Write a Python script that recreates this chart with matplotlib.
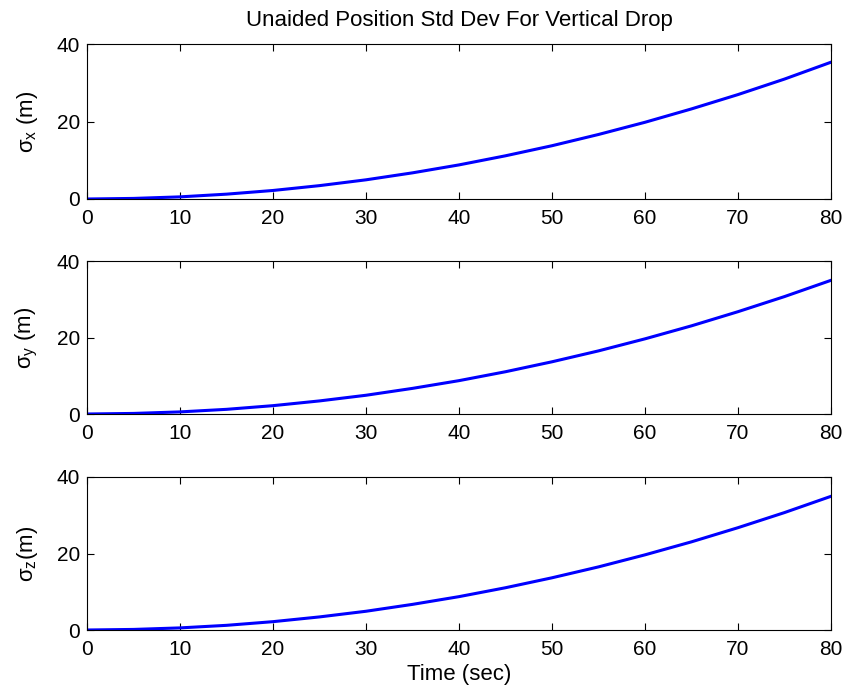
import matplotlib
matplotlib.use("Agg")
import matplotlib.pyplot as plt

plt.rcParams['font.family'] = ['Liberation Sans', 'DejaVu Sans']

time_s = [0, 5, 10, 15, 20, 25, 30, 35, 40, 45, 50, 55, 60, 65, 70, 75, 80]
sigma_x = [0, 0.15, 0.55, 1.25, 2.2, 3.45, 4.95, 6.75, 8.8, 11.15, 13.75, 16.65, 19.8, 23.25, 26.95, 30.95, 35.3]
sigma_y = [0, 0.15, 0.55, 1.22, 2.18, 3.42, 4.9, 6.7, 8.72, 11.05, 13.65, 16.5, 19.65, 23.05, 26.75, 30.7, 34.95]
sigma_z = [0, 0.15, 0.55, 1.22, 2.18, 3.42, 4.9, 6.7, 8.72, 11.05, 13.65, 16.5, 19.65, 23.05, 26.75, 30.7, 34.95]
ylabels = [r'$\sigma_x$ (m)', r'$\sigma_y$ (m)', r'$\sigma_z$(m)']
title = 'Unaided Position Std Dev For Vertical Drop'
xlabel = 'Time (sec)'

plt.rcParams['mathtext.fontset'] = 'custom'
plt.rcParams['mathtext.rm'] = 'Liberation Sans'
plt.rcParams['mathtext.it'] = 'Liberation Sans'

fig = plt.figure(figsize=(8.45, 6.92), dpi=100)
left, width = 87/845, 744/845
boxes = [(44, 199), (261, 414), (477, 630)]
series = [sigma_x, sigma_y, sigma_z]
for i, ((top, bot), ys) in enumerate(zip(boxes, series)):
    ax = fig.add_axes([left, 1 - bot/692, width, (bot - top)/692])
    ax.plot(time_s, ys, color='#0000ff', lw=2.2)
    ax.set_xlim(0, 80)
    ax.set_ylim(0, 40)
    ax.set_xticks(range(0, 81, 10))
    ax.set_yticks([0, 20, 40])
    ax.tick_params(direction='in', top=True, right=True, labelsize=15, length=5, width=0.8)
    ax.tick_params(axis='x', pad=7)
    ax.tick_params(axis='y', pad=5)
    for s in ax.spines.values():
        s.set_linewidth(0.8)
    ax.set_ylabel(ylabels[i], fontsize=16, labelpad=12)
    if i == 0:
        ax.set_title(title, fontsize=16, pad=13)
    if i == 2:
        ax.set_xlabel(xlabel, fontsize=16, labelpad=4)

fig.savefig('out.png', dpi=100)
